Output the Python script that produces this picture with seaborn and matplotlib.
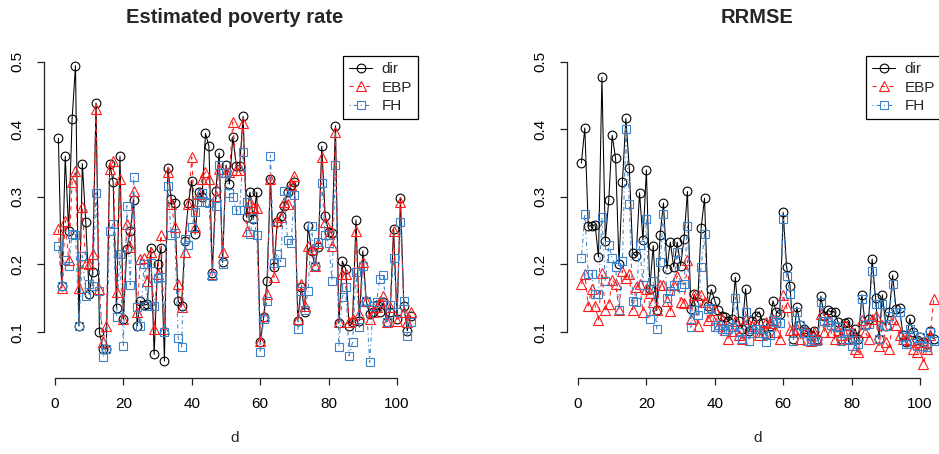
import numpy as np
import matplotlib
matplotlib.use("Agg")
import matplotlib.pyplot as plt
import seaborn as sns

# Domain index
domains = np.arange(1, 105)

# Estimated poverty rate per domain
rate_dir = [0.387, 0.168, 0.360, 0.250, 0.415, 0.494, 0.109, 0.349, 0.263, 0.156,
            0.189, 0.439, 0.100, 0.075, 0.075, 0.349, 0.322, 0.136, 0.360, 0.119,
            0.223, 0.249, 0.296, 0.109, 0.146, 0.140, 0.141, 0.225, 0.067, 0.200,
            0.224, 0.057, 0.343, 0.297, 0.291, 0.146, 0.139, 0.235, 0.291, 0.324,
            0.245, 0.307, 0.300, 0.394, 0.375, 0.188, 0.309, 0.365, 0.203, 0.347,
            0.319, 0.389, 0.346, 0.346, 0.419, 0.270, 0.307, 0.267, 0.307, 0.085,
            0.122, 0.176, 0.327, 0.196, 0.263, 0.272, 0.287, 0.307, 0.317, 0.322,
            0.117, 0.167, 0.130, 0.257, 0.220, 0.198, 0.226, 0.375, 0.272, 0.248,
            0.247, 0.405, 0.113, 0.205, 0.193, 0.109, 0.115, 0.266, 0.117, 0.220,
            0.146, 0.127, 0.130, 0.140, 0.130, 0.144, 0.115, 0.130, 0.253, 0.119,
            0.299, 0.139, 0.102, 0.124]
rate_ebp = [0.252, 0.165, 0.265, 0.206, 0.322, 0.339, 0.165, 0.285, 0.202, 0.200,
            0.215, 0.430, 0.163, 0.085, 0.109, 0.341, 0.353, 0.159, 0.327, 0.120,
            0.260, 0.226, 0.309, 0.130, 0.208, 0.210, 0.175, 0.218, 0.104, 0.186,
            0.243, 0.104, 0.337, 0.290, 0.255, 0.171, 0.137, 0.218, 0.289, 0.359,
            0.256, 0.304, 0.327, 0.337, 0.327, 0.186, 0.302, 0.341, 0.218, 0.337,
            0.337, 0.411, 0.340, 0.340, 0.410, 0.249, 0.292, 0.285, 0.284, 0.087,
            0.124, 0.156, 0.327, 0.181, 0.265, 0.270, 0.292, 0.290, 0.317, 0.331,
            0.119, 0.171, 0.139, 0.228, 0.223, 0.198, 0.232, 0.359, 0.263, 0.245,
            0.228, 0.396, 0.115, 0.186, 0.186, 0.115, 0.120, 0.249, 0.127, 0.204,
            0.146, 0.120, 0.130, 0.137, 0.146, 0.153, 0.115, 0.137, 0.250, 0.117,
            0.293, 0.130, 0.115, 0.130]
rate_fh = [0.228, 0.168, 0.206, 0.198, 0.245, 0.244, 0.109, 0.213, 0.154, 0.171,
           0.168, 0.306, 0.160, 0.063, 0.075, 0.249, 0.260, 0.122, 0.216, 0.080,
           0.287, 0.170, 0.330, 0.137, 0.109, 0.200, 0.139, 0.202, 0.139, 0.180,
           0.181, 0.100, 0.316, 0.243, 0.246, 0.091, 0.078, 0.238, 0.229, 0.255,
           0.278, 0.292, 0.306, 0.293, 0.291, 0.183, 0.287, 0.347, 0.200, 0.336,
           0.306, 0.300, 0.280, 0.280, 0.366, 0.293, 0.245, 0.269, 0.243, 0.070,
           0.120, 0.146, 0.361, 0.202, 0.216, 0.204, 0.309, 0.236, 0.232, 0.303,
           0.104, 0.160, 0.132, 0.160, 0.257, 0.198, 0.233, 0.321, 0.243, 0.232,
           0.176, 0.347, 0.078, 0.152, 0.167, 0.065, 0.085, 0.189, 0.107, 0.198,
           0.146, 0.055, 0.139, 0.145, 0.179, 0.184, 0.115, 0.140, 0.210, 0.130,
           0.263, 0.146, 0.094, 0.115]

# Relative root mean squared error per domain
rrmse_dir = [0.350, 0.402, 0.257, 0.257, 0.259, 0.211, 0.477, 0.235, 0.295, 0.391,
             0.357, 0.201, 0.322, 0.416, 0.343, 0.217, 0.212, 0.306, 0.236, 0.340,
             0.164, 0.228, 0.132, 0.244, 0.291, 0.194, 0.233, 0.196, 0.233, 0.198,
             0.238, 0.308, 0.134, 0.156, 0.144, 0.254, 0.298, 0.139, 0.163, 0.146,
             0.132, 0.124, 0.122, 0.117, 0.119, 0.181, 0.117, 0.104, 0.164, 0.102,
             0.117, 0.124, 0.130, 0.114, 0.095, 0.109, 0.146, 0.130, 0.127, 0.277,
             0.196, 0.168, 0.090, 0.137, 0.110, 0.105, 0.100, 0.094, 0.102, 0.090,
             0.153, 0.124, 0.132, 0.130, 0.130, 0.115, 0.090, 0.114, 0.115, 0.090,
             0.105, 0.090, 0.155, 0.110, 0.120, 0.208, 0.150, 0.090, 0.155, 0.109,
             0.130, 0.184, 0.134, 0.135, 0.096, 0.086, 0.120, 0.100, 0.088, 0.093,
             0.086, 0.083, 0.102, 0.090]
rrmse_ebp = [0.171, 0.186, 0.139, 0.164, 0.139, 0.118, 0.188, 0.133, 0.141, 0.177,
             0.171, 0.133, 0.191, 0.180, 0.186, 0.133, 0.166, 0.171, 0.130, 0.164,
             0.158, 0.144, 0.133, 0.169, 0.169, 0.146, 0.131, 0.169, 0.183, 0.144,
             0.143, 0.206, 0.120, 0.155, 0.109, 0.155, 0.144, 0.118, 0.123, 0.132,
             0.109, 0.120, 0.103, 0.090, 0.102, 0.117, 0.096, 0.090, 0.120, 0.100,
             0.109, 0.112, 0.095, 0.100, 0.115, 0.113, 0.118, 0.100, 0.090, 0.155,
             0.137, 0.103, 0.103, 0.104, 0.090, 0.103, 0.100, 0.087, 0.100, 0.090,
             0.126, 0.100, 0.120, 0.100, 0.090, 0.103, 0.096, 0.110, 0.090, 0.100,
             0.075, 0.070, 0.118, 0.100, 0.090, 0.120, 0.124, 0.080, 0.110, 0.085,
             0.075, 0.120, 0.110, 0.095, 0.090, 0.090, 0.088, 0.075, 0.070, 0.085,
             0.053, 0.075, 0.095, 0.149]
rrmse_fh = [0.209, 0.275, 0.186, 0.186, 0.157, 0.157, 0.270, 0.175, 0.229, 0.209,
            0.196, 0.133, 0.205, 0.401, 0.290, 0.146, 0.145, 0.229, 0.170, 0.268,
            0.120, 0.175, 0.104, 0.203, 0.275, 0.150, 0.160, 0.170, 0.219, 0.167,
            0.171, 0.257, 0.107, 0.133, 0.125, 0.196, 0.245, 0.134, 0.135, 0.107,
            0.110, 0.105, 0.102, 0.105, 0.107, 0.151, 0.100, 0.090, 0.130, 0.087,
            0.104, 0.105, 0.098, 0.105, 0.085, 0.096, 0.118, 0.115, 0.113, 0.267,
            0.183, 0.156, 0.087, 0.130, 0.110, 0.098, 0.087, 0.090, 0.087, 0.087,
            0.144, 0.116, 0.115, 0.110, 0.109, 0.108, 0.087, 0.090, 0.098, 0.080,
            0.088, 0.082, 0.149, 0.110, 0.112, 0.191, 0.141, 0.090, 0.141, 0.109,
            0.124, 0.171, 0.130, 0.130, 0.093, 0.082, 0.105, 0.095, 0.080, 0.093,
            0.080, 0.078, 0.100, 0.087]

series_names = ["dir", "EBP", "FH"]
panel_titles = ["Estimated poverty rate", "RRMSE"]
x_ticks = [0, 20, 40, 60, 80, 100]
y_ticks = [0.1, 0.2, 0.3, 0.4, 0.5]

sns.set_style("ticks")
plt.rcParams["font.family"] = ["Liberation Sans", "DejaVu Sans"]

styles = [
    dict(color="black", marker="o", markersize=6.3, linestyle="-"),
    dict(color="#FF1A1A", marker="^", markersize=7.3, linestyle=(0, (4, 4))),
    dict(color="#3D82C8", marker="s", markersize=5.8, linestyle=(0, (1, 3, 4, 3))),
]

fig = plt.figure(figsize=(9.39, 4.54), dpi=100)
W, H = 939.0, 454.0
ax_w, ax_h = 380.5, 324.4
ax_bottom = (H - 378.0) / H
axes = [fig.add_axes([44.3 / W, ax_bottom, ax_w / W, ax_h / H]),
        fig.add_axes([567.3 / W, ax_bottom, ax_w / W, ax_h / H])]

panels = [(rate_dir, rate_ebp, rate_fh), (rrmse_dir, rrmse_ebp, rrmse_fh)]

for ax, data, title in zip(axes, panels, panel_titles):
    for vals, name, st in zip(data, series_names, styles):
        sns.lineplot(x=domains, y=np.asarray(vals), ax=ax, estimator=None,
                     color=st["color"], marker=st["marker"],
                     markersize=st["markersize"], markerfacecolor="none",
                     markeredgecolor=st["color"], markeredgewidth=0.8,
                     linewidth=0.75, linestyle=st["linestyle"], label=name)
    ax.set_xlim(-3.12, 108.12)
    ax.set_ylim(0.032, 0.512)
    ax.set_xticks(x_ticks)
    ax.set_yticks(y_ticks)
    ax.set_xticklabels([str(t) for t in x_ticks])
    ax.set_yticklabels([f"{t:.1f}" for t in y_ticks])
    for lab in ax.get_yticklabels():
        lab.set_rotation(90)
        lab.set_va("center")
    sns.despine(ax=ax)
    ax.spines["left"].set_bounds(0.1, 0.5)
    ax.spines["bottom"].set_bounds(0, 100)
    for sp in ("left", "bottom"):
        ax.spines[sp].set_color("#222222")
        ax.spines[sp].set_linewidth(0.9)
    ax.tick_params(axis="both", length=5, width=0.9, color="#222222",
                   pad=9, labelsize=11, labelcolor="black")
    ax.set_title(title, fontsize=14.5, fontweight="bold", pad=22)
    ax.set_xlabel("d", fontsize=11, labelpad=14)
    ax.set_ylabel("")
    ax.patch.set_alpha(0)

    handles = ax.get_lines()[:3]
    leg = ax.legend(handles, series_names, loc="upper right",
                    bbox_to_anchor=(0.983, 0.9926), fontsize=11,
                    frameon=True, fancybox=False, framealpha=1,
                    edgecolor="black", handlelength=1.5, handletextpad=0.6,
                    labelspacing=0.28, borderpad=0.42, borderaxespad=0.0,
                    numpoints=1)
    leg.get_frame().set_linewidth(0.9)

fig.savefig("out.png", dpi=100)
